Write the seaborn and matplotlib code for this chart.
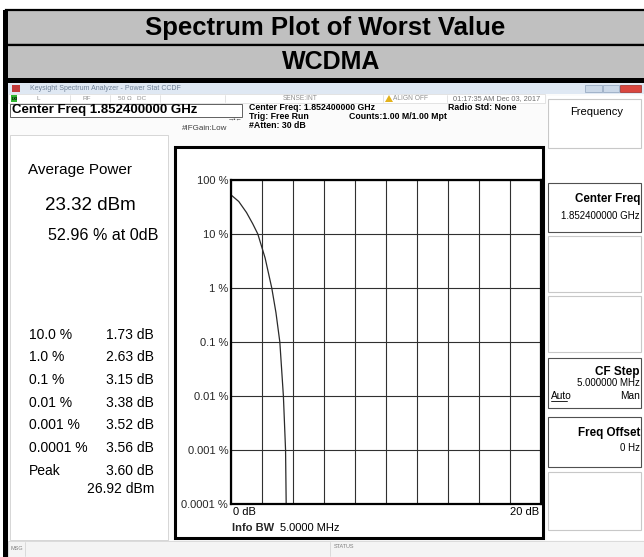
import matplotlib
matplotlib.use('Agg')
import matplotlib.pyplot as plt
import matplotlib.patches as patches
import seaborn as sns
import pandas as pd

# CCDF curve (dB above average power vs probability in %)
power_db = [0.0, 0.5, 1.0, 1.4, 1.73, 2.2, 2.63, 2.9, 3.15, 3.38, 3.52, 3.56]
ccdf_pct = [52.96, 40.0, 25.0, 15.5, 10.0, 3.6, 1.0, 0.35, 0.1, 0.01, 0.001, 0.0001]

# measurement table on the left panel
table_prob = ['10.0 %', '1.0 %', '0.1 %', '0.01 %', '0.001 %', '0.0001 %', 'Peak']
table_db = ['1.73 dB', '2.63 dB', '3.15 dB', '3.38 dB', '3.52 dB', '3.56 dB', '3.60 dB']
peak_dbm = '26.92 dBm'
avg_power = '23.32 dBm'
avg_pct = '52.96 % at 0dB'

y_ticks = [100, 10, 1, 0.1, 0.01, 0.001, 0.0001]
y_labels = ['100 %', '10 %', '1 %', '0.1 %', '0.01 %', '0.001 %', '0.0001 %']
x_ticks = [0, 2, 4, 6, 8, 10, 12, 14, 16, 18, 20]

sns.set_style('white')
plt.rcParams['font.family'] = ['Liberation Sans', 'DejaVu Sans']

W, H = 644, 557
fig = plt.figure(figsize=(W / 100, H / 100), dpi=100)
fig.patch.set_facecolor('white')

# overlay in pixel coords for the header / screenshot chrome
bg = fig.add_axes([0, 0, 1, 1])
bg.set_xlim(0, W)
bg.set_ylim(H, 0)
bg.axis('off')


def rect(x0, y0, x1, y1, fc='none', ec='black', lw=1.0, z=1):
    bg.add_patch(patches.Rectangle((x0, y0), x1 - x0, y1 - y0, facecolor=fc,
                                   edgecolor=ec, linewidth=lw, zorder=z))


def txt(x, y, s, size=6, ha='left', weight='normal', color='black', z=5):
    bg.text(x, y, s, fontsize=size, ha=ha, va='center', fontweight=weight,
            color=color, zorder=z)


# title rows
rect(6, 10, W + 2, 45, fc='#c0c0c0', ec='black', lw=1.6)
rect(6, 45, W + 2, 80, fc='#c0c0c0', ec='black', lw=1.6)
txt(325, 28, 'Spectrum Plot of Worst Value', size=18.5, ha='center', weight='bold')
txt(331, 62, 'WCDMA', size=18, ha='center', weight='bold')
rect(4, 78, W + 2, 83, fc='black', ec='none')

# screenshot area
rect(8, 83, W, H, fc='#fbfbfb', ec='none')
rect(3, 10, 8, H, fc='black', ec='none', z=3)

# window title bar
rect(8, 83, W, 94, fc='#dfe8f3', ec='none')
rect(12, 85, 20, 92, fc='#c23a3a', ec='none')
txt(30, 89, 'Keysight Spectrum Analyzer - Power Stat CCDF', size=5, color='#6d7f96')
rect(585, 85, 602, 92, fc='#cbd8e8', ec='#8ea2bb', lw=0.5)
rect(603, 85, 619, 92, fc='#cbd8e8', ec='#8ea2bb', lw=0.5)
rect(620, 85, 641, 92, fc='#d9463f', ec='#9e2a25', lw=0.5)

# status row
rect(8, 94, 545, 103, fc='white', ec='#d8d8d8', lw=0.5)
rect(11, 95, 17, 102, fc='#2fb52f', ec='none')
txt(11.5, 98.5, 'LXI', size=2.8, weight='bold')
for sx in [70, 110, 160, 225, 383, 447]:
    bg.plot([sx, sx], [95, 102], color='#d8d8d8', lw=0.5)
txt(37, 98.5, 'L', size=4.6, color='#909090')
txt(83, 98.5, 'RF', size=4.6, color='#909090')
txt(118, 98.5, '50 Ω   DC', size=4.6, color='#909090')
txt(283, 98.5, 'SENSE:INT', size=4.8, color='#909090')
bg.add_patch(patches.Polygon([[385, 102], [389, 95], [393, 102]], closed=True,
                             facecolor='#e3b21c', edgecolor='none', zorder=4))
txt(393, 98.5, 'ALIGN OFF', size=4.8, color='#909090')
txt(453, 98.5, '01:17:35 AM Dec 03, 2017', size=5.3, color='#707070')

# center freq box and settings text
rect(10, 104, 242, 117, fc='white', ec='#606060', lw=0.7)
txt(12, 110.5, 'Center Freq 1.852400000 GHz', size=9.5, weight='bold')
txt(249, 108, 'Center Freq: 1.852400000 GHz', size=6.3, weight='bold')
txt(249, 116.5, 'Trig: Free Run', size=6.3, weight='bold')
txt(249, 125.5, '#Atten: 30 dB', size=6.3, weight='bold')
txt(448, 108, 'Radio Std: None', size=6.3, weight='bold')
txt(349, 116.5, 'Counts:1.00 M/1.00 Mpt', size=6.3, weight='bold')
txt(182, 128, '#IFGain:Low', size=5.8, color='#404040')
txt(228, 120, '→•←', size=4.5, color='#404040')

# left panel
rect(10, 135, 168, 540, fc='white', ec='#d0d0d0', lw=0.6)
txt(28, 170, 'Average Power', size=11)
txt(45, 206, avg_power, size=13.5)
txt(48, 235, avg_pct, size=11.6)
row_y = [335, 357, 380, 403, 425, 448, 471]
for yy, p, d in zip(row_y, table_prob, table_db):
    txt(29, yy, p, size=10)
    txt(154, yy, d, size=10, ha='right')
txt(154, 489, peak_dbm, size=10, ha='right')

# right soft-key panel
rect(547, 96, W, 540, fc='white', ec='none')
for y0, y1 in [(99, 148), (183, 232), (236, 292), (296, 352), (358, 408), (417, 467), (472, 530)]:
    rect(548, y0, 641, y1, fc='white', ec='#505050' if y0 in (183, 358, 417) else '#c8c8c8', lw=0.8)
txt(597, 112, 'Frequency', size=8, ha='center')
txt(640, 199, 'Center Freq', size=8.4, ha='right', weight='bold')
txt(640, 216, '1.852400000 GHz', size=7, ha='right')
txt(640, 372, 'CF Step', size=8.5, ha='right', weight='bold')
txt(640, 383, '5.000000 MHz', size=7, ha='right')
txt(551, 396, 'Auto', size=7.3)
bg.plot([551, 567], [400.5, 400.5], color='black', lw=0.6)
txt(640, 396, 'Man', size=7.3, ha='right')
txt(640, 433, 'Freq Offset', size=8.4, ha='right', weight='bold')
txt(640, 448, '0 Hz', size=7, ha='right')

# bottom status bar
rect(8, 541, W, H, fc='#f4f4f4', ec='#d0d0d0', lw=0.5)
bg.plot([25, 25], [542, 556], color='#d0d0d0', lw=0.5)
bg.plot([330, 330], [542, 556], color='#d0d0d0', lw=0.5)
txt(11, 548, 'MSG', size=4, color='#808080')
txt(334, 547, 'STATUS', size=4, color='#808080')

# graph window frame
rect(175, 147, 543, 538, fc='white', ec='black', lw=2.2, z=2)

# CCDF graticule
px_l, px_r, px_t, px_b = 231, 541, 180, 504
ax = fig.add_axes([px_l / W, 1 - px_b / H, (px_r - px_l) / W, (px_b - px_t) / H])
ax.set_facecolor('white')
df = pd.DataFrame({'dB': power_db, 'pct': ccdf_pct})
sns.lineplot(data=df, x='dB', y='pct', sort=False, color='#2a2a2a', lw=0.9, ax=ax)
ax.set_yscale('log')
ax.set_xlim(0, 20)
ax.set_ylim(1e-4, 100)
ax.set_xticks(x_ticks)
ax.set_yticks(y_ticks)
ax.set_yticklabels(y_labels, fontsize=8)
ax.set_xticklabels([])
ax.minorticks_off()
ax.tick_params(length=0, pad=2)
ax.grid(True, color='#303030', lw=0.8)
for sp in ax.spines.values():
    sp.set_color('black')
    sp.set_linewidth(1.6)
ax.set_xlabel('')
ax.set_ylabel('')

txt(233, 512, '0 dB', size=8)
txt(539, 512, '20 dB', size=8, ha='right')
bg.text(232, 528, 'Info BW', fontsize=8, fontweight='bold', va='center', zorder=5)
txt(280, 528, '5.0000 MHz', size=8)

fig.savefig('out.png', dpi=100)
